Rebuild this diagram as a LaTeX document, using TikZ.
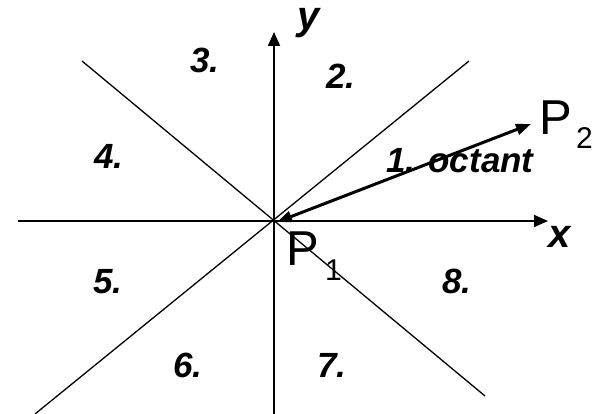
\documentclass[tikz,border=0pt]{standalone}
\usepackage{fontspec}
\setmainfont{Liberation Sans}
\usetikzlibrary{arrows.meta}
\tikzset{
  num/.style={anchor=base, inner sep=0pt, font=\fontsize{35}{40}\selectfont\bfseries\itshape},
  axlab/.style={anchor=base, inner sep=0pt, text height=0.55em, font=\fontsize{40}{44}\selectfont\bfseries\itshape},
  plab/.style={anchor=base west, inner sep=0pt, font=\fontsize{49}{56}\selectfont},
  psub/.style={anchor=base west, inner sep=0pt, font=\fontsize{30}{34}\selectfont},
  axis/.style={line width=1.8pt, -{Triangle[length=14pt,width=12pt]}},
  diag/.style={line width=1.3pt},
  vec/.style={line width=3pt, {Triangle[length=15pt,width=11pt]}-{Triangle[length=15pt,width=11pt]}}
}
\begin{document}
\begin{tikzpicture}[x=1pt,y=-1pt]
\useasboundingbox (0,0) rectangle (601,414);
\coordinate (O) at (274,221);
\coordinate (xl) at (18,221);
\coordinate (xr) at (548,221);
\coordinate (yb) at (274,414);
\coordinate (yt) at (274,32);
\coordinate (nw) at (82,61);
\coordinate (se) at (485,396);
\coordinate (ne) at (469,61);
\coordinate (sw) at (35,414);
\coordinate (P2) at (531,124);
\coordinate (P1) at (277,222);
% diagonals
\draw[diag] (nw) -- (se);
\draw[diag] (ne) -- (sw);
% axes
\draw[axis] (xl) -- (xr);
\draw[axis] (yb) -- (yt);
% vector
\draw[vec] (P1) -- (P2);
% axis labels
\node[axlab] (lx) at (560,247) {x};
\node[axlab] (ly) at (309,30) {y};
% octant labels
\node[num] (n1) at (460,172) {1. octant};
\node[num] (n2) at (341,89) {2.};
\node[num] (n3) at (205,73) {3.};
\node[num] (n4) at (109,168) {4.};
\node[num] (n5) at (108,293) {5.};
\node[num] (n6) at (188,377) {6.};
\node[num] (n7) at (332,377) {7.};
\node[num] (n8) at (457,293) {8.};
% point labels
\node[plab] (lp2) at (539,135) {P};
\node[psub] (lp2s) at (576,148) {2};
\node[plab] (lp1) at (286,265) {P};
\node[psub] (lp1s) at (325,280) {1};
\end{tikzpicture}
\end{document}
